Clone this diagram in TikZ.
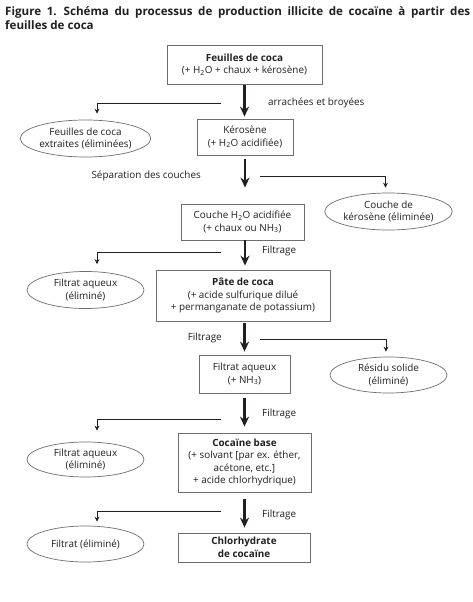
\documentclass[tikz,border=0pt]{standalone}
\usepackage{fontspec}
\setmainfont{Open Sans}
\usetikzlibrary{shapes.geometric,arrows.meta}
\definecolor{ink}{HTML}{231F20}
\definecolor{rim}{HTML}{6D6E70}

\begin{document}
\begin{tikzpicture}[x=1bp, y=-1bp, text=ink,
  font=\fontsize{9.9bp}{12.5bp}\selectfont,
  box/.style={draw=rim, line width=0.8bp, align=center, inner sep=0pt},
  waste/.style={draw=rim, ellipse, line width=0.7bp, align=center, inner sep=0pt, minimum width=117bp, minimum height=37bp},
  flow/.style={draw=ink, line width=2.3bp, -{Stealth[length=10bp,width=9bp]}},
  drop/.style={draw=ink, line width=0.9bp, -{Stealth[length=5bp,width=5bp]}},
  lbl/.style={inner sep=0pt}]
\fill[white] (0,0) rectangle (473,602);
\useasboundingbox (0,0) rectangle (473,602);

% title
\node[lbl, anchor=base west, font=\fontsize{11.6bp}{14bp}\selectfont\bfseries] (title) at (5,16)
  {\makebox[465bp][s]{Figure 1.\hspace{0.6em}Schéma du processus de production illicite de cocaïne à partir des}};
\node[lbl, anchor=base west, font=\fontsize{11.6bp}{14bp}\selectfont\bfseries] (title2) at (5,30) {feuilles de coca};

% main chain
\node[box, minimum width=155bp, minimum height=39bp] (feuilles) at (244.5,64.5)
  {\textbf{Feuilles de coca}\\(+ H\textsubscript{2}O + chaux + kérosène)};
\node[box, minimum width=96bp, minimum height=36bp] (kerosene) at (245,137)
  {Kérosène\\(+ H\textsubscript{2}O acidifiée)};
\node[box, minimum width=123bp, minimum height=36bp] (couche) at (242.5,222)
  {Couche H\textsubscript{2}O acidifiée\\(+ chaux ou NH\textsubscript{3})};
\node[box, minimum width=174bp, minimum height=51bp] (pate) at (243,295.5)
  {\textbf{Pâte de coca}\\(+ acide sulfurique dilué\\+ permanganate de potassium)};
\node[box, minimum width=91bp, minimum height=38bp] (filtrat) at (244.5,374)
  {Filtrat aqueux\\(+ NH\textsubscript{3})};
\node[box, minimum width=133bp, minimum height=59bp] (cocaine) at (244.5,462.5)
  {\textbf{Cocaïne base}\\(+ solvant [par ex. éther,\\acétone, etc.]\\+ acide chlorhydrique)};
\node[box, minimum width=132bp, minimum height=29bp] (chlorhydrate) at (244,547.5)
  {\textbf{Chlorhydrate}\\\textbf{de cocaïne}};

% eliminated
\node[waste] (elimfeuilles) at (85.5,138.5) {Feuilles de coca\\extraites (éliminées)};
\node[waste] (elimkero) at (388.5,211.5) {Couche de\\kérosène (éliminée)};
\node[waste] (elimfiltrat) at (85.5,290) {Filtrat aqueux\\(éliminé)};
\node[waste, minimum height=36bp] (elimresidu) at (388.5,375) {Résidu solide\\(éliminé)};
\node[waste, minimum height=35bp] (elimaqueux) at (85.5,459.5) {Filtrat aqueux\\(éliminé)};
\node[waste, minimum height=36bp] (elimfinal) at (85.5,544) {Filtrat (éliminé)};

% labels
\node[lbl, anchor=west] (broyees) at (268,103) {arrachées et broyées};
\node[lbl, anchor=east] (separation) at (201,176) {Séparation des couches};
\node[lbl, anchor=west] (filtrage1) at (262,251) {Filtrage};
\node[lbl, anchor=east] (filtrage2) at (222,338) {Filtrage};
\node[lbl, anchor=west] (filtrage3) at (262,414) {Filtrage};
\node[lbl, anchor=west] (filtrage4) at (262,515) {Filtrage};

\draw[flow, shorten <=1bp, shorten >=2bp] (feuilles.south) -- (feuilles.south |- kerosene.north);
\draw[flow, shorten <=4bp, shorten >=16bp] (kerosene.south) -- (kerosene.south |- couche.north);
\draw[flow, shorten <=0bp, shorten >=4bp] (couche.south -| kerosene.south) -- (kerosene.south |- pate.north);
\draw[flow, shorten <=2bp, shorten >=3bp] (pate.south -| filtrat.north) -- (filtrat.north);
\draw[flow, shorten <=5bp, shorten >=6bp] (filtrat.south) -- (cocaine.north);
\draw[flow, shorten <=7bp, shorten >=5bp] (cocaine.south) -- (cocaine.south |- chlorhydrate.north);

% side branches
\coordinate (b1) at (221,103);
\coordinate (b2) at (260,176);
\coordinate (b3) at (221,252);
\coordinate (b4) at (260,339);
\coordinate (b5) at (221,419);
\coordinate (b6) at (221,511);
\draw[drop, shorten >=6bp] (b1) -| ([xshift=11.5bp]elimfeuilles.north);
\draw[drop, shorten >=5bp] (b2) -| ([xshift=-3bp]elimkero.north);
\draw[drop, shorten >=7bp] (b3) -| ([xshift=11.5bp]elimfiltrat.north);
\draw[drop, shorten >=5bp] (b4) -| ([xshift=-2.5bp]elimresidu.north);
\draw[drop, shorten >=11bp] (b5) -| ([xshift=11.5bp]elimaqueux.north);
\draw[drop, shorten >=4bp] (b6) -| ([xshift=11.5bp]elimfinal.north);
\end{tikzpicture}
\end{document}
